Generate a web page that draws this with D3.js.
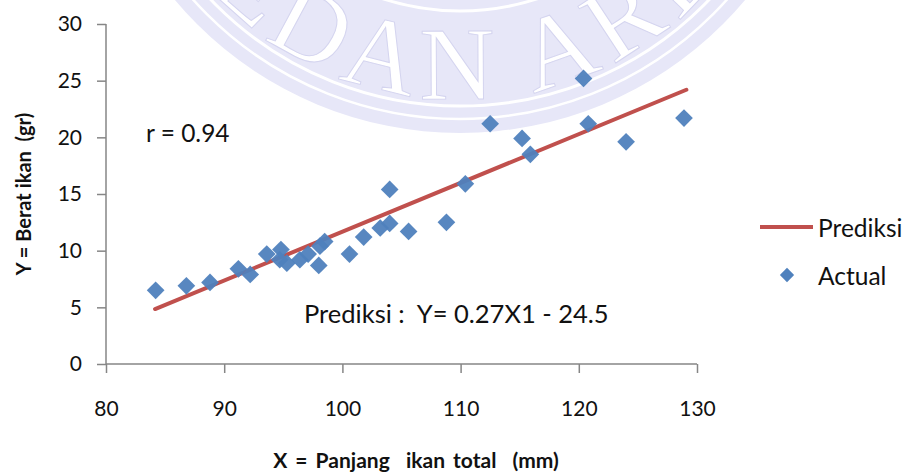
<!DOCTYPE html>
<html><head><meta charset="utf-8">
<script src="https://cdn.jsdelivr.net/npm/d3@7/dist/d3.min.js"></script>
<style>
html,body{margin:0;padding:0;background:#fff;}
svg{display:block;font-family:Lato,"Open Sans",sans-serif;}
</style></head>
<body>
<svg id="chart" width="906" height="472"></svg>
<script>
// ---- data ----
const lengthMM = [84.2, 86.8, 88.8, 91.2, 92.2, 93.6, 94.8, 94.7, 95.3, 96.4, 97.1, 98.0, 98.1, 98.5, 100.6, 101.8, 103.2, 104.0, 104.0, 105.6, 108.8, 110.4, 112.5, 115.2, 115.9, 120.4, 120.8, 124.0, 128.9];
const weightGr = [6.5, 6.9, 7.2, 8.4, 7.9, 9.7, 10.1, 9.2, 8.9, 9.2, 9.7, 8.7, 10.4, 10.8, 9.7, 11.2, 12.0, 12.4, 15.4, 11.7, 12.5, 15.9, 21.2, 19.9, 18.5, 25.2, 21.2, 19.6, 21.7];
const predX = [84.15, 129.1];
const predY = [4.85, 24.2];
const xTicks = [80, 90, 100, 110, 120, 130];
const yTicks = [0, 5, 10, 15, 20, 25, 30];
const seriesNames = ["Prediksi", "Actual"];
const rText = "r = 0.94";
const eqText = "Prediksi :  Y= 0.27X1 - 24.5";
const xTitle = "X = Panjang  ikan total  (mm)";
const yTitle = "Y = Berat ikan  (gr)";
const watermarkText = "MEDAN AREA";

const svg = d3.select("#chart");
const plot = {left: 106, right: 697, top: 24, bottom: 364};
const blue = "#4f81bd", red = "#c0504d", axisCol = "#868686";

// ---- watermark (background logo) ----
const wm = svg.append("g");
const cx = 460, cy = -239, R = 372;
wm.append("circle").attr("cx", cx).attr("cy", cy).attr("r", R).attr("fill", "#e7e7f8");
[[358, 2.5], [345, 3]].forEach(([r, w]) => {
  wm.append("circle").attr("cx", cx).attr("cy", cy).attr("r", r)
    .attr("fill", "none").attr("stroke", "#fff").attr("stroke-width", w);
});
wm.append("circle").attr("cx", cx).attr("cy", cy).attr("r", 250)
  .attr("fill", "none").attr("stroke", "#fff").attr("stroke-width", 3);
const rb = 338;
const a1 = Math.PI * 0.95, a2 = Math.PI * 0.05;
wm.append("path").attr("id", "wmpath").attr("fill", "none")
  .attr("d", `M${cx + rb*Math.cos(a1)},${cy + rb*Math.sin(a1)} A${rb},${rb} 0 0 0 ${cx + rb*Math.cos(a2)},${cy + rb*Math.sin(a2)}`);
wm.append("text").attr("font-family", "'Liberation Serif','DejaVu Serif',serif")
  .attr("font-size", 104).attr("fill", "#fff").attr("stroke", "#d4d4ef").attr("stroke-width", 1)
  .attr("letter-spacing", 9)
  .append("textPath").attr("href", "#wmpath").attr("startOffset", "50.5%").attr("text-anchor", "middle")
  .text(watermarkText);

// ---- scales ----
const x = d3.scaleLinear().domain([80, 130]).range([plot.left, plot.right]);
const y = d3.scaleLinear().domain([0, 30]).range([plot.bottom, plot.top]);

// ---- axes ----
const xAxis = svg.append("g").attr("transform", `translate(0,${plot.bottom})`)
  .call(d3.axisBottom(x).tickValues(xTicks).tickSize(9).tickPadding(28).tickFormat(d3.format("d")));
const yAxis = svg.append("g").attr("transform", `translate(${plot.left},0)`)
  .call(d3.axisLeft(y).tickValues(yTicks).tickSize(9).tickPadding(15).tickFormat(d3.format("d")));
[xAxis, yAxis].forEach(g => {
  g.select(".domain").attr("stroke", axisCol).attr("stroke-width", 1.5);
  g.selectAll(".tick line").attr("stroke", axisCol).attr("stroke-width", 1.5);
  g.selectAll(".tick text").attr("fill", "#111").attr("font-size", 21).attr("font-family", "Lato,sans-serif");
});
xAxis.select(".domain").attr("d", `M${plot.left},0H${plot.right}`);
yAxis.select(".domain").attr("d", `M0,${plot.top}V${plot.bottom}`);

// ---- regression line ----
const line = d3.line().x(d => x(d[0])).y(d => y(d[1]));
svg.append("path").datum(predX.map((v, i) => [v, predY[i]]))
  .attr("d", line).attr("fill", "none").attr("stroke", red).attr("stroke-width", 4).attr("stroke-linecap", "round");

// ---- actual points ----
const diamond = d3.symbol().type(d3.symbolDiamond2).size(200);
svg.append("g").selectAll("path").data(lengthMM.map((v, i) => [v, weightGr[i]])).join("path")
  .attr("d", diamond).attr("transform", d => `translate(${x(d[0])},${y(d[1])})`)
  .attr("fill", blue).attr("opacity", 0.95);

// ---- annotations ----
svg.append("text").attr("x", 146).attr("y", 132).attr("dominant-baseline", "central")
  .attr("font-size", 24.5).attr("fill", "#111").text(rText);
svg.append("text").attr("x", 304).attr("y", 313).attr("dominant-baseline", "central")
  .attr("font-size", 25.5).attr("fill", "#111").style("white-space", "pre").text(eqText);

// ---- axis titles ----
svg.append("text").attr("x", 416).attr("y", 459).attr("text-anchor", "middle").attr("dominant-baseline", "central")
  .attr("font-size", 21).attr("font-weight", "bold").attr("fill", "#111").attr("word-spacing", 3)
  .style("white-space", "pre").text(xTitle);
svg.append("text").attr("transform", "translate(23,194) rotate(-90)").attr("text-anchor", "middle").attr("dominant-baseline", "central")
  .attr("font-size", 20).attr("font-weight", "bold").attr("fill", "#111").style("white-space", "pre").text(yTitle);

// ---- legend ----
const lg = svg.append("g");
lg.append("line").attr("x1", 760).attr("x2", 813).attr("y1", 227).attr("y2", 227).attr("stroke", red).attr("stroke-width", 4);
lg.append("text").attr("x", 818).attr("y", 227).attr("dominant-baseline", "central").attr("font-size", 24.5).attr("fill", "#111").text(seriesNames[0]);
lg.append("path").attr("d", d3.symbol().type(d3.symbolDiamond2).size(130)).attr("transform", "translate(787,275)").attr("fill", blue);
lg.append("text").attr("x", 818).attr("y", 275).attr("dominant-baseline", "central").attr("font-size", 24.5).attr("fill", "#111").text(seriesNames[1]);
</script>
</body></html>
